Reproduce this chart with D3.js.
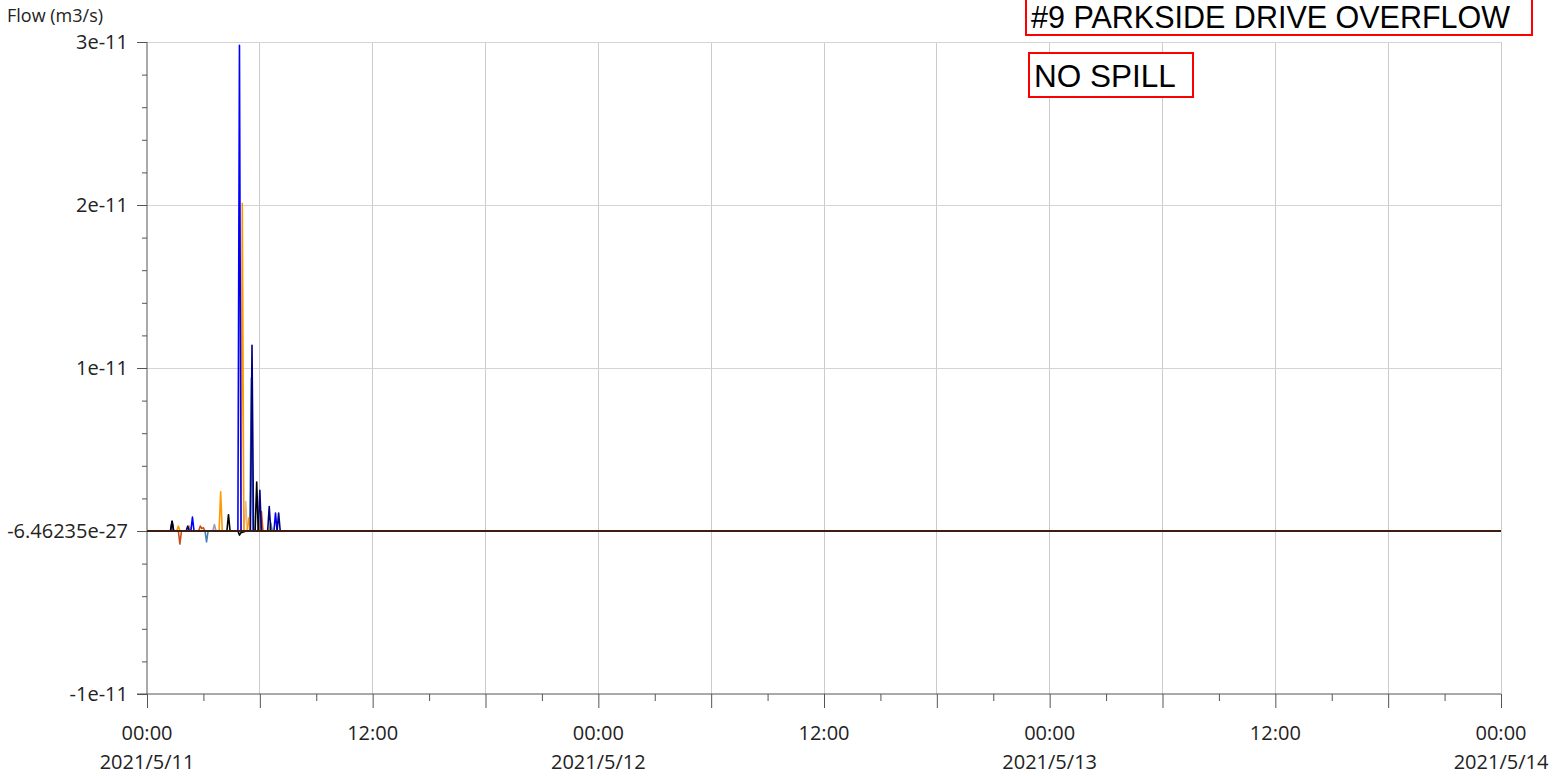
<!DOCTYPE html>
<html><head><meta charset="utf-8">
<script src="https://cdn.jsdelivr.net/npm/d3@7"></script>
<style>
html,body{margin:0;padding:0;background:#fff;}
svg{display:block;}
</style></head>
<body>
<svg id="chart" width="1565" height="776"></svg>
<script>
// ---------- DATA ----------
const day = "2021-05-11";
const domainStart = "2021-05-11 00:00";
const domainEnd = "2021-05-14 00:00";
const yTickValues = [-1e-11, 0, 1e-11, 2e-11, 3e-11];
const yTickLabels = ["-1e-11", "-6.46235e-27", "1e-11", "2e-11", "3e-11"];
const xLabelTimes = ["2021-05-11 00:00","2021-05-11 12:00","2021-05-12 00:00","2021-05-12 12:00","2021-05-13 00:00","2021-05-13 12:00","2021-05-14 00:00"];
const xLabelTop = ["00:00","12:00","00:00","12:00","00:00","12:00","00:00"];
const xLabelBottom = ["2021/5/11","","2021/5/12","","2021/5/13","","2021/5/14"];

// time on 2021/5/11 (HH:MM), flow (m3/s)
const tanSeries = [["05:10",0],["05:15",1.8e-12],["05:20",0]];
const graySeries = [["03:30",0],["03:35",0.4e-12],["03:40",0]];
const greenSeries = [["06:30",0],["06:35",0.5e-12],["06:40",0]];
const steelSeries = [["03:05",0],["03:10",-0.67e-12],["03:15",0],["05:28",0],["05:33",9.4e-12],["05:38",0]];
const brownSeries = [["01:40",0],["01:45",-0.8e-12],["01:50",0],["02:45",0],["02:50",0.3e-12],["02:55",0.15e-12],["03:00",0.2e-12],["03:05",0],["06:00",0],["06:05",1.2e-12],["06:10",0]];
const orangeSeries = [["01:35",0],["01:40",0.3e-12],["01:45",0],["02:10",0],["02:15",0.3e-12],["02:20",0],["03:50",0],["03:55",2.4e-12],["04:00",0],["05:00",0],["05:04",2.01e-11],["05:09",0],["05:20",0],["05:25",0.8e-12],["05:30",0]];
const blueSeries = [["01:15",0],["01:20",0.6e-12],["01:25",0],["02:20",0],["02:25",0.85e-12],["02:30",0],["04:50",0],["04:55",2.98e-11],["05:00",0],["06:45",0],["06:50",1.1e-12],["06:55",0]];
const navySeries = [["02:05",0],["02:10",0.3e-12],["02:15",0],["05:30",0],["05:35",1.14e-11],["05:40",0],["05:55",0],["06:00",2.5e-12],["06:05",0],["06:25",0],["06:30",1.5e-12],["06:35",0],["06:55",0],["07:00",1.1e-12],["07:05",0]];
const blackSeries = [["01:15",0],["01:20",0.6e-12],["01:25",0],["04:15",0],["04:20",1.0e-12],["04:25",0],["04:50",0],["04:55",-0.25e-12],["05:00",-0.1e-12],["05:10",-0.05e-12],["05:15",0],["05:45",0],["05:50",3.0e-12],["05:55",0]];
const zeroSeries = [["2021-05-11 00:00",0],["2021-05-14 00:00",0]];

const seriesList = [
  {name:"tan", data:tanSeries, color:"#e8b888"},
  {name:"gray", data:graySeries, color:"#a898b8"},
  {name:"green", data:greenSeries, color:"#88aa22"},
  {name:"steel", data:steelSeries, color:"#4682b4"},
  {name:"brown", data:brownSeries, color:"#c8501a"},
  {name:"orange", data:orangeSeries, color:"#ff9900"},
  {name:"blue", data:blueSeries, color:"#0000ff"},
  {name:"navy", data:navySeries, color:"#000080"},
  {name:"black", data:blackSeries, color:"#000000"}
];

// ---------- CHART ----------
const svg = d3.select("#chart");
const parse = d3.timeParse("%Y-%m-%d %H:%M");
const toDate = s => s.length > 5 ? parse(s) : parse(day + " " + s);

const x = d3.scaleTime().domain([parse(domainStart), parse(domainEnd)]).range([147, 1501]);
const y = d3.scaleLinear().domain([-1e-11, 3e-11]).range([694, 42]);

const font = "'Open Sans', sans-serif";

// grid
const gridTimes = d3.timeHour.every(6).range(parse(domainStart), d3.timeHour.offset(parse(domainEnd),1));
svg.append("g").selectAll("line").data(gridTimes.filter(d => +d !== +parse(domainStart)))
  .join("line")
  .attr("x1", d => x(d)).attr("x2", d => x(d))
  .attr("y1", y(3e-11)).attr("y2", y(-1e-11))
  .attr("stroke", "#cccccc").attr("stroke-width", 1).attr("shape-rendering","crispEdges");
svg.append("g").selectAll("line").data(yTickValues.filter(v => v > -1e-11))
  .join("line")
  .attr("x1", 147).attr("x2", 1501)
  .attr("y1", d => y(d)).attr("y2", d => y(d))
  .attr("stroke", "#d4d4d4").attr("stroke-width", 1).attr("shape-rendering","crispEdges");

// y axis
const yAxisMajor = d3.axisLeft(y).tickValues(yTickValues).tickSize(10)
  .tickFormat((d,i) => yTickLabels[i]);
const gy = svg.append("g").attr("transform","translate(147,0)").call(yAxisMajor);
gy.select(".domain").attr("stroke","#555").attr("d", `M0,${y(3e-11)}V${y(-1e-11)}`);
gy.selectAll(".tick line").attr("stroke","#555");
gy.selectAll(".tick text").attr("font-family", font).attr("font-size", 20).attr("fill","#222").attr("x", -19);
const yMinor = d3.range(-10, 31, 2).map(v => v * 1e-12).filter(v => yTickValues.every(t => Math.abs(t - v) > 1e-15));
svg.append("g").attr("transform","translate(147,0)").call(d3.axisLeft(y).tickValues(yMinor).tickSize(5).tickFormat(""))
  .call(g => g.select(".domain").remove())
  .selectAll(".tick line").attr("stroke","#555");

// x axis
const xMajorTimes = d3.timeHour.every(6).range(parse(domainStart), d3.timeHour.offset(parse(domainEnd),1));
const xMinorTimes = d3.timeHour.every(3).range(parse(domainStart), d3.timeHour.offset(parse(domainEnd),1)).filter(d => d.getHours() % 6 !== 0);
const gx = svg.append("g").attr("transform",`translate(0,${y(-1e-11)})`)
  .call(d3.axisBottom(x).tickValues(xMajorTimes).tickSize(14).tickFormat(""));
gx.select(".domain").attr("stroke","#555").attr("d", `M137,0H1501`);
gx.selectAll(".tick line").attr("stroke","#555");
svg.append("g").attr("transform",`translate(0,${y(-1e-11)})`)
  .call(d3.axisBottom(x).tickValues(xMinorTimes).tickSize(7).tickFormat(""))
  .call(g => g.select(".domain").remove())
  .selectAll(".tick line").attr("stroke","#555");

const xl = svg.append("g");
xl.selectAll("text.t").data(xLabelTimes).join("text").attr("class","t")
  .attr("x", d => x(parse(d))).attr("y", 740).attr("text-anchor","middle")
  .attr("font-family", font).attr("font-size", 20).attr("fill","#222")
  .text((d,i) => xLabelTop[i]);
xl.selectAll("text.d").data(xLabelTimes).join("text").attr("class","d")
  .attr("x", d => x(parse(d))).attr("y", 769).attr("text-anchor","middle")
  .attr("font-family", font).attr("font-size", 20).attr("fill","#222")
  .text((d,i) => xLabelBottom[i]);

// y title
svg.append("text").attr("x", 7).attr("y", 22).attr("font-family", font).attr("font-size", 18).attr("fill","#222").text("Flow (m3/s)");

// lines
const line = d3.line().x(d => x(toDate(d[0]))).y(d => y(d[1]));
const lg = svg.append("g");
seriesList.forEach(s => {
  lg.append("path").datum(s.data).attr("d", line).attr("fill","none")
    .attr("stroke", s.color).attr("stroke-width", 1.6).attr("stroke-linejoin","round");
});
lg.append("path").datum(zeroSeries).attr("d", line).attr("fill","none")
  .attr("stroke", "#3c1e10").attr("stroke-width", 2);

// annotation boxes
const title = svg.append("g");
title.append("rect").attr("x",1026).attr("y",-10).attr("width",506).attr("height",45)
  .attr("fill","#fff").attr("stroke","#ff0000").attr("stroke-width",2);
title.append("text").attr("x",1031).attr("y",28).attr("font-family","'Liberation Sans', Arial, sans-serif")
  .attr("font-size",30.5).attr("fill","#000").text("#9 PARKSIDE DRIVE OVERFLOW");
const note = svg.append("g");
note.append("rect").attr("x",1029).attr("y",53).attr("width",164).attr("height",44)
  .attr("fill","#fff").attr("stroke","#ff0000").attr("stroke-width",2);
note.append("text").attr("x",1034).attr("y",87).attr("font-family","'Liberation Sans', Arial, sans-serif")
  .attr("font-size",31.5).attr("fill","#000").text("NO SPILL");
</script>
</body></html>
